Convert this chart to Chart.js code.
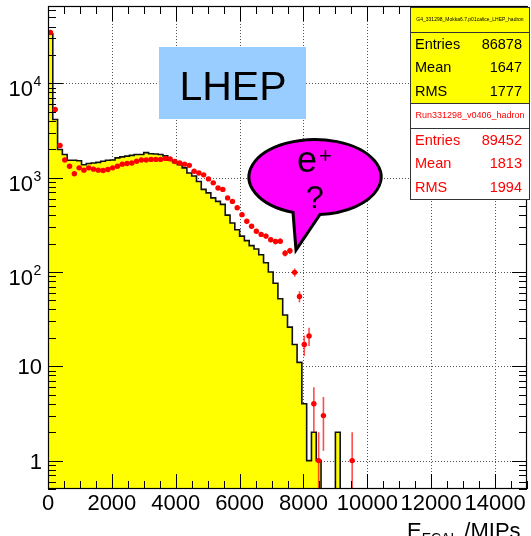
<!DOCTYPE html>
<html>
<head>
<meta charset="utf-8">
<title>ECAL energy, LHEP vs data</title>
<script src="https://cdn.jsdelivr.net/npm/chart.js@4.4.1/dist/chart.umd.min.js"></script>
<style>
  html, body { margin: 0; padding: 0; background: #fff; }
  canvas { display: block; }
</style>
</head>
<body>
<canvas id="ecalChart" width="531" height="536"></canvas>
<script>
// 100 bins of 150 MIPs from 0 to 15000
const binWidth = 150;
const xMax = 15000;
const yMin = 0.5;
const yMax = 66000;

// G4 LHEP simulation (yellow histogram), counts per bin
const simCounts = [
    33500, 4140, 1990, 1760, 1530, 1530, 1510, 1370, 1410, 1430,
    1450, 1490, 1530, 1540, 1620, 1660, 1690, 1720, 1760, 1760,
    1840, 1790, 1780, 1760, 1700, 1530, 1450, 1370, 1270, 1120,
    1040, 910, 750, 690, 610, 560, 520, 400, 330, 280,
    240, 215, 190, 175, 152, 125, 100, 76, 52, 35,
    26, 17, 11, 4, 1, 2, 1, 0, 0, 0,
    2, 0, 0, 0, 0, 0, 0, 0, 0, 0,
    0, 0, 0, 0, 0, 0, 0, 0, 0, 0,
    0, 0, 0, 0, 0, 0, 0, 0, 0, 0,
    0, 0, 0, 0, 0, 0, 0, 0, 0, 0
];

// run 331298 data (red points), counts per bin
const dataCounts = [
    34600, 5290, 2190, 1540, 1320, 1100, 1270, 1200, 1270, 1230,
    1200, 1190, 1220, 1270, 1320, 1390, 1410, 1430, 1490, 1540,
    1540, 1560, 1560, 1560, 1600, 1580, 1480, 1430, 1390, 1350,
    1170, 1120, 1070, 970, 880, 775, 750, 610, 560, 480,
    405, 345, 305, 270, 250, 240, 220, 210, 212, 158,
    168, 99, 55, 17, 21, 4, 1, 3, 0, 0,
    0, 0, 0, 1, 0, 0, 0, 0, 0, 0,
    0, 0, 0, 0, 0, 0, 0, 0, 0, 0,
    0, 0, 0, 0, 0, 0, 0, 0, 0, 0,
    0, 0, 0, 0, 0, 0, 0, 0, 0, 0
];

const xTicks = [0, 2000, 4000, 6000, 8000, 10000, 12000, 14000];
const yTicks = [1, 10, 100, 1000, 10000];
const yTickLabels = ['1', '10', '10^2', '10^3', '10^4'];

const statNames = ['Entries', 'Mean', 'RMS'];
const simStats = [86878, 1647, 1777];
const dataStats = [89452, 1813, 1994];
const simName = 'G4_331298_Mokka6.7.p01calice_LHEP_hadron';
const dataName = 'Run331298_v0406_hadron';

const FONT = "'Liberation Sans', Arial, Helvetica, sans-serif";

// histogram edges for a stepped line; empty bins sit below the axis floor
const histPoints = simCounts.map((c, i) => ({ x: i * binWidth, y: c > 0 ? c : yMin / 10 }));
histPoints.push({ x: xMax, y: histPoints[histPoints.length - 1].y });

const dataPoints = [];
dataCounts.forEach((c, i) => {
    if (c > 0) dataPoints.push({ x: (i + 0.5) * binWidth, y: c });
});

function line(ctx, x0, y0, x1, y1) {
    ctx.beginPath();
    ctx.moveTo(x0, y0);
    ctx.lineTo(x1, y1);
    ctx.stroke();
}

function drawErrorBars(chart) {
    const ctx = chart.ctx;
    const xs = chart.scales.x, ys = chart.scales.y;
    const area = chart.chartArea;
    ctx.save();
    ctx.beginPath();
    ctx.rect(area.left, area.top, area.right - area.left, area.bottom - area.top);
    ctx.clip();
    ctx.strokeStyle = 'rgba(255, 0, 0, 0.7)';
    ctx.lineWidth = 1.6;
    dataPoints.forEach(p => {
        const err = Math.sqrt(p.y);
        const px = xs.getPixelForValue(p.x);
        const py = ys.getPixelForValue(p.y);
        line(ctx, px, ys.getPixelForValue(p.y + err), px, ys.getPixelForValue(Math.max(p.y - err, yMin)));
        line(ctx, xs.getPixelForValue(p.x - binWidth / 2), py, xs.getPixelForValue(p.x + binWidth / 2), py);
    });
    ctx.restore();
}

function drawGrid(chart) {
    const ctx = chart.ctx;
    const xs = chart.scales.x, ys = chart.scales.y;
    const a = chart.chartArea;
    ctx.save();
    ctx.strokeStyle = '#555';
    ctx.lineWidth = 1;
    ctx.setLineDash([1, 2]);
    xTicks.forEach(v => {
        if (v === 0) return;
        const px = Math.round(xs.getPixelForValue(v)) + 0.5;
        line(ctx, px, a.top, px, a.bottom);
    });
    yTicks.forEach(v => {
        const py = Math.round(ys.getPixelForValue(v)) + 0.5;
        line(ctx, a.left, py, a.right, py);
    });
    ctx.restore();
}

// frame with inward ticks on all four sides
function drawFrame(chart) {
    const ctx = chart.ctx;
    const xs = chart.scales.x, ys = chart.scales.y;
    const a = chart.chartArea;
    ctx.save();
    ctx.strokeStyle = '#000';
    ctx.lineWidth = 1;
    for (let v = 0; v <= xMax; v += 500) {
        const px = Math.round(xs.getPixelForValue(v)) + 0.5;
        const len = v % 2000 === 0 ? 15 : 8;
        line(ctx, px, a.bottom, px, a.bottom - len);
        line(ctx, px, a.top, px, a.top + len);
    }
    for (let e = -1; e <= 4; e++) {
        for (let m = 1; m <= 9; m++) {
            const v = m * Math.pow(10, e);
            if (v < yMin || v > yMax) continue;
            const py = Math.round(ys.getPixelForValue(v)) + 0.5;
            const len = m === 1 ? 15 : 8;
            line(ctx, a.left, py, a.left + len, py);
            line(ctx, a.right, py, a.right - len, py);
        }
    }
    ctx.lineWidth = 1.2;
    ctx.strokeRect(a.left + 0.5, a.top + 0.5, a.right - a.left - 1, a.bottom - a.top - 1);
    ctx.restore();
}

function drawYLabels(chart) {
    const ctx = chart.ctx;
    const ys = chart.scales.y;
    const xr = chart.chartArea.left - 6;
    ctx.save();
    ctx.fillStyle = '#000';
    yTicks.forEach((v, i) => {
        const py = ys.getPixelForValue(v);
        const parts = yTickLabels[i].split('^');
        ctx.font = '22px ' + FONT;
        if (parts.length === 1) {
            ctx.textAlign = 'right';
            ctx.textBaseline = 'alphabetic';
            ctx.fillText(parts[0], xr, py + 8);
        } else {
            ctx.textAlign = 'right';
            ctx.textBaseline = 'alphabetic';
            ctx.fillText(parts[0], xr - 9, py + 13);
            ctx.font = '14px ' + FONT;
            ctx.textAlign = 'left';
            ctx.fillText(parts[1], xr - 8.5, py + 3);
        }
    });
    ctx.restore();
}

function drawAxisTitle(chart) {
    const ctx = chart.ctx;
    ctx.save();
    ctx.fillStyle = '#000';
    ctx.textBaseline = 'alphabetic';
    ctx.textAlign = 'left';
    let x = 407;
    const base = 538;
    ctx.font = '22px ' + FONT;
    ctx.fillText('E', x, base);
    x += ctx.measureText('E').width;
    ctx.font = '14px ' + FONT;
    ctx.fillText('ECAL', x, base + 5);
    x += ctx.measureText('ECAL').width;
    ctx.font = '22px ' + FONT;
    ctx.fillText(' /MIPs', x, base);
    ctx.restore();
}

function drawStatsBox(ctx, y0, ySep, y1, fill, color, name, titleSize, values) {
    const x0 = 410.5, x1 = 529.5;
    ctx.save();
    ctx.fillStyle = fill;
    ctx.fillRect(x0, y0, x1 - x0, y1 - y0);
    ctx.strokeStyle = '#333';
    ctx.lineWidth = 1;
    ctx.strokeRect(x0, y0, x1 - x0, y1 - y0);
    line(ctx, x0, ySep, x1, ySep);
    ctx.fillStyle = color;
    ctx.textBaseline = 'middle';
    ctx.textAlign = 'center';
    ctx.font = titleSize + 'px ' + FONT;
    ctx.fillText(name, (x0 + x1) / 2, (y0 + ySep) / 2);
    ctx.font = '14.5px ' + FONT;
    statNames.forEach((s, i) => {
        const ty = ySep + 12 + i * 23.5;
        ctx.textAlign = 'left';
        ctx.fillText(s, 415, ty);
        ctx.textAlign = 'right';
        ctx.fillText(String(values[i]), 522, ty);
    });
    ctx.restore();
}

function drawLabelBox(ctx) {
    ctx.save();
    ctx.fillStyle = '#99ccff';
    ctx.fillRect(159, 47, 147, 72);
    ctx.fillStyle = '#000';
    ctx.font = '41px ' + FONT;
    ctx.textAlign = 'center';
    ctx.textBaseline = 'alphabetic';
    ctx.fillText('LHEP', 233, 100);
    ctx.restore();
}

function drawBubble(ctx) {
    const cx = 315, cy = 177, rx = 66, ry = 37.5;
    const aLeft = Math.acos(-22 / rx);
    const aRight = Math.acos(5 / rx);
    ctx.save();
    ctx.beginPath();
    ctx.ellipse(cx, cy, rx, ry, 0, aLeft, aRight + 2 * Math.PI);
    ctx.lineTo(296, 250);
    ctx.closePath();
    ctx.fillStyle = '#ff00ff';
    ctx.fill();
    ctx.lineWidth = 3;
    ctx.lineJoin = 'miter';
    ctx.strokeStyle = '#000';
    ctx.stroke();
    ctx.fillStyle = '#000';
    ctx.textBaseline = 'alphabetic';
    ctx.textAlign = 'left';
    ctx.font = '36px ' + FONT;
    ctx.fillText('e', 297, 172);
    ctx.font = '22px ' + FONT;
    ctx.fillText('+', 319, 163);
    ctx.font = '32px ' + FONT;
    ctx.textAlign = 'center';
    ctx.fillText('?', 315, 208);
    ctx.restore();
}

const rootStyle = {
    id: 'rootStyle',
    beforeDatasetsDraw(chart) {
        drawGrid(chart);
    },
    beforeDatasetDraw(chart, args) {
        if (args.index === 0) drawErrorBars(chart);
    },
    afterDatasetsDraw(chart) {
        drawFrame(chart);
    },
    afterDraw(chart) {
        const ctx = chart.ctx;
        drawYLabels(chart);
        drawAxisTitle(chart);
        drawStatsBox(ctx, 7.5, 32.5, 103.5, '#ffff00', '#000', simName, 5, simStats);
        drawStatsBox(ctx, 103.5, 128.5, 199.5, '#ffffff', '#ff0000', dataName, 9, dataStats);
        drawLabelBox(ctx);
        drawBubble(ctx);
    }
};

function createEcalChart() {
    const ctx = document.getElementById('ecalChart').getContext('2d');
    new Chart(ctx, {
        type: 'line',
        data: {
            datasets: [{
                label: dataName,
                data: dataPoints,
                showLine: false,
                pointRadius: 2.7,
                pointBackgroundColor: '#ff0000',
                pointBorderWidth: 0,
                order: 0
            }, {
                label: simName,
                data: histPoints,
                // horizontal at each bin's own count, then drop to the next
                stepped: 'before',
                fill: 'start',
                backgroundColor: '#ffff00',
                borderColor: '#111',
                borderWidth: 1.6,
                pointRadius: 0,
                order: 1
            }]
        },
        options: {
            responsive: false,
            animation: false,
            events: [],
            layout: { padding: { top: 6, right: 3, left: 0, bottom: 0 } },
            plugins: {
                legend: { display: false },
                tooltip: { enabled: false }
            },
            scales: {
                x: {
                    type: 'linear',
                    min: 0,
                    max: xMax,
                    grid: { display: false, drawTicks: false },
                    border: { display: false },
                    afterBuildTicks: s => { s.ticks = xTicks.map(v => ({ value: v })); },
                    afterFit: s => { s.height = 47; },
                    ticks: {
                        autoSkip: false,
                        maxRotation: 0,
                        minRotation: 0,
                        padding: 2,
                        color: '#000',
                        font: { family: FONT, size: 22 },
                        callback: v => String(v)
                    }
                },
                y: {
                    type: 'logarithmic',
                    min: yMin,
                    max: yMax,
                    grid: { display: false, drawTicks: false },
                    border: { display: false },
                    ticks: { display: false },
                    afterFit: s => { s.width = 48; }
                }
            }
        },
        plugins: [rootStyle]
    });
}

createEcalChart();
</script>
</body>
</html>
